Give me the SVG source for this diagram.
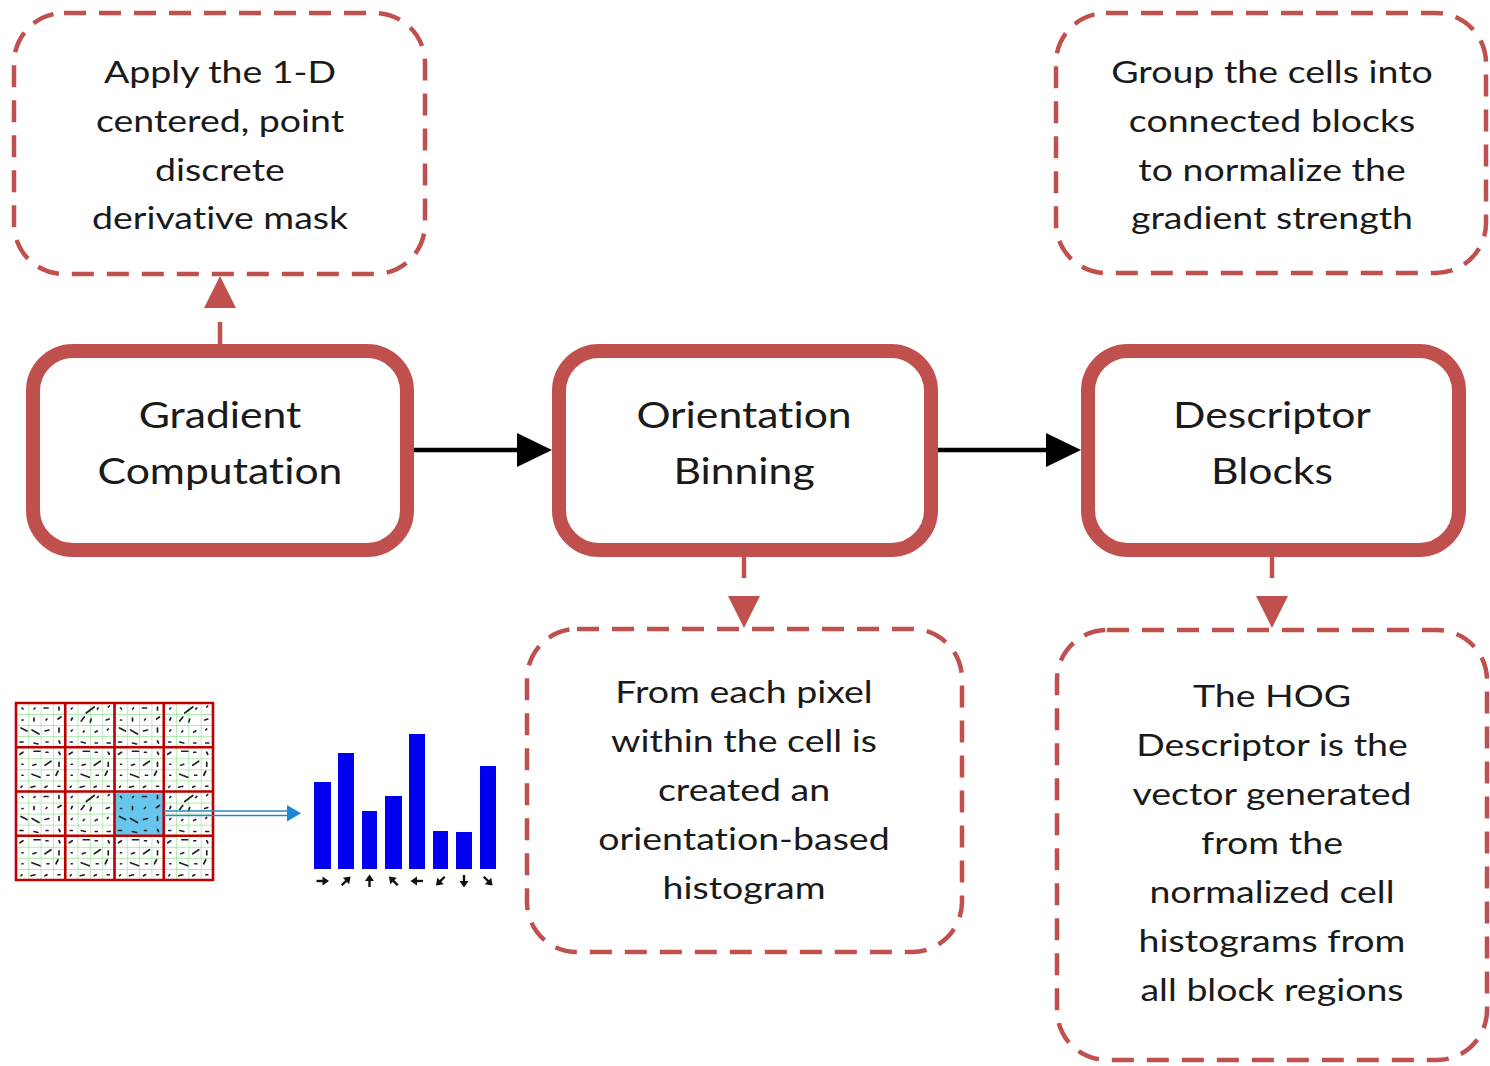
<svg xmlns="http://www.w3.org/2000/svg" width="1490" height="1066" viewBox="0 0 1490 1066">
  <style>
    .step { fill: #ffffff; stroke: #c0504d; stroke-width: 14; }
    .note { fill: #ffffff; stroke: #c0504d; stroke-width: 4.5; stroke-dasharray: 22 13; }
    .t-step { font-family: Lato, "Open Sans", sans-serif; font-size: 36px; fill: #1a1a1a; text-anchor: middle; font-variant-ligatures: none; }
    .t-note { font-family: Lato, "Open Sans", sans-serif; font-size: 30px; fill: #1a1a1a; text-anchor: middle; font-variant-ligatures: none; }
    .flow { stroke: #000000; stroke-width: 4.5; fill: none; }
    .link { stroke: #c0504d; stroke-width: 4.5; fill: none; }
    .vec { stroke: #222222; stroke-width: 1.7; stroke-linecap: round; fill: none; }
    .cell { fill: none; stroke: #c00000; stroke-width: 2.6; }
    .bar { fill: #0000ee; }
  </style>
  <defs>
    <pattern id="pixels" patternUnits="userSpaceOnUse" x="16" y="703" width="12.3125" height="11.0625">
      <rect width="12.3125" height="11.0625" fill="#ffffff"/>
      <path d="M0,0 V11.0625 M0,0 H12.3125" stroke="#8fe08f" stroke-width="1.2"/>
    </pattern>
    <!-- gradient vectors inside one cell (three variants) -->
    <g id="cellA" class="vec">
      <path d="M6,5 L7,6 M18,6 L19,5 M28,5 L32,5 M43,4 L43,7 M6,17 L7,17 M18,15 L18,18 M30,17 L31,16 M42,16 L45,14 M5,25 L11,28 M16,27 L23,31 M29,28 L33,27 M43,25 L43,29 M4,39 L7,39 M18,40 L22,41 M30,39 L32,39 M43,38 L44,40"/>
    </g>
    <g id="cellB" class="vec">
      <path d="M6,6 L7,5 M21,10 L29,4 M32,6 L33,5 M43,4 L44,3 M6,17 L7,15 M16,18 L19,14 M25,19 L26,16 M41,17 L44,16 M6,28 L7,27 M18,29 L19,28 M30,29 L32,28 M42,27 L43,26 M5,39 L7,39 M16,39 L20,40 M30,40 L32,40 M42,40 L45,40"/>
    </g>
    <g id="cellC" class="vec">
      <path d="M4,7 L7,5 M18,4 L24,4 M30,5 L32,5 M43,5 L44,7 M6,17 L7,17 M17,18 L20,17 M29,18 L35,14 M43,15 L43,19 M6,28 L7,28 M16,27 L24,30 M31,28 L33,28 M40,28 L42,24 M5,40 L6,39 M15,40 L19,39 M29,40 L31,39 M42,39 L44,39"/>
    </g>
    <g id="dir">
      <path d="M-6,0 H1" stroke="#111111" stroke-width="2.4" fill="none"/>
      <polygon points="0,-4.5 6.5,0 0,4.5" fill="#111111"/>
    </g>
  </defs>

  <rect width="1490" height="1066" fill="#ffffff"/>

  <!-- connectors -->
  <g id="connectors">
    <path class="flow" d="M413,450 H518"/>
    <polygon points="517,433 552,450 517,467" fill="#000000"/>
    <path class="flow" d="M937,450 H1047"/>
    <polygon points="1046,433 1081,450 1046,467" fill="#000000"/>
    <path class="link" d="M220,344 V322"/>
    <polygon points="204,308 236,308 220,276" fill="#c0504d"/>
    <path class="link" d="M744,557 V578"/>
    <polygon points="728,596 760,596 744,628" fill="#c0504d"/>
    <path class="link" d="M1272,557 V578"/>
    <polygon points="1256,596 1288,596 1272,628" fill="#c0504d"/>
  </g>

  <!-- process steps -->
  <g id="gradient-computation">
    <rect class="step" x="33" y="351" width="374" height="199" rx="40"/>
    <g transform="translate(220,0) scale(1.185,1)">
      <text class="t-step" x="0" y="428">Gradient</text>
      <text class="t-step" x="0" y="484">Computation</text>
    </g>
  </g>
  <g id="orientation-binning">
    <rect class="step" x="559" y="351" width="372" height="199" rx="40"/>
    <g transform="translate(744,0) scale(1.185,1)">
      <text class="t-step" x="0" y="428">Orientation</text>
      <text class="t-step" x="0" y="484">Binning</text>
    </g>
  </g>
  <g id="descriptor-blocks">
    <rect class="step" x="1088" y="351" width="371" height="199" rx="40"/>
    <g transform="translate(1272,0) scale(1.185,1)">
      <text class="t-step" x="0" y="428">Descriptor</text>
      <text class="t-step" x="0" y="484">Blocks</text>
    </g>
  </g>

  <!-- notes -->
  <g id="note-derivative-mask">
    <rect class="note" x="14" y="13" width="411" height="261" rx="50"/>
    <g transform="translate(220,0) scale(1.25,1)">
      <text class="t-note" x="0" y="83">Apply the 1-D</text>
      <text class="t-note" x="0" y="132">centered, point</text>
      <text class="t-note" x="0" y="181">discrete</text>
      <text class="t-note" x="0" y="229">derivative mask</text>
    </g>
  </g>
  <g id="note-blocks">
    <rect class="note" x="1056" y="13" width="430" height="260" rx="50"/>
    <g transform="translate(1272,0) scale(1.25,1)">
      <text class="t-note" x="0" y="83">Group the cells into</text>
      <text class="t-note" x="0" y="132">connected blocks</text>
      <text class="t-note" x="0" y="181">to normalize the</text>
      <text class="t-note" x="0" y="229">gradient strength</text>
    </g>
  </g>
  <g id="note-histogram">
    <rect class="note" x="527" y="629" width="435" height="323" rx="50"/>
    <g transform="translate(744,0) scale(1.25,1)">
      <text class="t-note" x="0" y="703">From each pixel</text>
      <text class="t-note" x="0" y="752">within the cell is</text>
      <text class="t-note" x="0" y="801">created an</text>
      <text class="t-note" x="0" y="850">orientation-based</text>
      <text class="t-note" x="0" y="899">histogram</text>
    </g>
  </g>
  <g id="note-descriptor">
    <rect class="note" x="1057" y="630" width="430" height="430" rx="50"/>
    <g transform="translate(1272,0) scale(1.25,1)">
      <text class="t-note" x="0" y="707">The HOG</text>
      <text class="t-note" x="0" y="756">Descriptor is the</text>
      <text class="t-note" x="0" y="805">vector generated</text>
      <text class="t-note" x="0" y="854">from the</text>
      <text class="t-note" x="0" y="903">normalized cell</text>
      <text class="t-note" x="0" y="952">histograms from</text>
      <text class="t-note" x="0" y="1001">all block regions</text>
    </g>
  </g>

  <!-- cell grid with gradient vectors -->
  <g id="cell-grid">
    <rect x="16" y="703" width="197" height="177" fill="url(#pixels)"/>
    <rect x="114.5" y="791.5" width="49.25" height="44.25" fill="#66c6ee"/>
    <use href="#cellA" x="16" y="703"/>
    <use href="#cellB" x="65.25" y="703"/>
    <use href="#cellA" x="114.5" y="703"/>
    <use href="#cellB" x="163.75" y="703"/>
    <use href="#cellC" x="16" y="747.25"/>
    <use href="#cellC" x="65.25" y="747.25"/>
    <use href="#cellC" x="114.5" y="747.25"/>
    <use href="#cellC" x="163.75" y="747.25"/>
    <use href="#cellA" x="16" y="791.5"/>
    <use href="#cellB" x="65.25" y="791.5"/>
    <use href="#cellA" x="114.5" y="791.5"/>
    <use href="#cellB" x="163.75" y="791.5"/>
    <use href="#cellC" x="16" y="835.75"/>
    <use href="#cellC" x="65.25" y="835.75"/>
    <use href="#cellC" x="114.5" y="835.75"/>
    <use href="#cellC" x="163.75" y="835.75"/>
    <path class="cell" d="M16,703 H213 V880 H16 Z M65.25,703 V880 M114.5,703 V880 M163.75,703 V880 M16,747.25 H213 M16,791.5 H213 M16,835.75 H213"/>
    <path d="M163.75,811 H290 M163.75,815.5 H290" stroke="#2a86c8" stroke-width="1.6" fill="none"/>
    <polygon points="287,805 301,813.25 287,821.5" fill="#1e88d0"/>
  </g>

  <!-- orientation histogram -->
  <g id="histogram">
    <rect class="bar" x="314" y="782" width="17" height="87"/>
    <rect class="bar" x="338" y="753" width="16" height="116"/>
    <rect class="bar" x="362" y="811" width="15" height="58"/>
    <rect class="bar" x="385" y="796" width="17" height="73"/>
    <rect class="bar" x="409" y="734" width="16" height="135"/>
    <rect class="bar" x="433" y="831" width="15" height="38"/>
    <rect class="bar" x="456" y="832" width="16" height="37"/>
    <rect class="bar" x="480" y="766" width="16" height="103"/>
    <use href="#dir" transform="translate(322.5,881)"/>
    <use href="#dir" transform="translate(346,881) rotate(-45)"/>
    <use href="#dir" transform="translate(369.5,881) rotate(-90)"/>
    <use href="#dir" transform="translate(393.5,881) rotate(-135)"/>
    <use href="#dir" transform="translate(417,881) rotate(180)"/>
    <use href="#dir" transform="translate(440.5,881) rotate(135)"/>
    <use href="#dir" transform="translate(464,881) rotate(90)"/>
    <use href="#dir" transform="translate(488,881) rotate(45)"/>
  </g>
</svg>
